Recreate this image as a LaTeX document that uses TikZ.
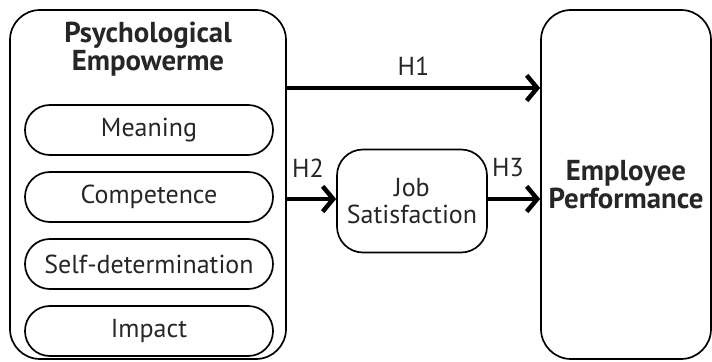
\documentclass[tikz,border=0pt]{standalone}
\usepackage{fontspec}
\setmainfont{PT Sans}
\usepackage{tikz}
\usetikzlibrary{positioning, arrows.meta}
\tikzstyle{bigbox} = [rectangle, rounded corners=0.75cm, draw=black, line width=1.2pt]
\tikzstyle{pill} = [rectangle, rounded corners=0.62cm, minimum width=6.2cm, minimum height=1.25cm, text centered, draw=black, line width=1.2pt]
\tikzstyle{jsbox} = [rectangle, rounded corners=0.65cm, minimum width=3.75cm, minimum height=2.575cm, align=center, draw=black, line width=1.2pt]
\tikzstyle{arrow} = [line width=3.5pt, -{Straight Barb[length=7.5pt,width=18pt,line width=3.2pt]}]
\tikzstyle{every node}=[font=\fontsize{18.5}{19.5}\selectfont, text=black!85]
\tikzstyle{bold} = [align=center, font=\fontsize{20.5}{19.5}\selectfont\bfseries]

\begin{document}
\begin{tikzpicture}[node distance=1.675cm]
		\useasboundingbox (0,0) rectangle (17.8,9.025);
		\node (pe) [bigbox, minimum width=6.9cm, minimum height=8.725cm] at (3.7,4.4125) {};
		\node (petitle) [bold] at (3.7,7.8) {Psychological\\Empowerme};
		\node (mean) [pill] at (3.725,5.775) {Meaning};
		\node (comp) [pill, below of=mean] {Competence};
		\node (selfd) [pill, below of=comp] {Self-determination};
		\node (imp) [pill, below of=selfd] {Impact};
		\node (ep) [bigbox, bold, minimum width=4.25cm, minimum height=8.725cm] at (15.65,4.4125) {Employee\\Performance};
		\node (js) [jsbox, font=\fontsize{18.5}{19.5}\selectfont] at (10.3,4.0) {Job\\Satisfaction};
		\coordinate (h1) at (0,6.825);
		\coordinate (h2) at (0,4.05);
		\draw [arrow](pe.east |- h1) -- node[above=4pt]{H1} (ep.west |- h1);
		\draw [arrow](pe.east |- h2) -- (js.west |- h2);
		\draw [arrow](js.east |- h2) -- (ep.west |- h2);
		\node (lh2) at (7.7,4.825) {H2};
		\node (lh3) at (12.7,4.825) {H3};
	\end{tikzpicture}
\end{document}
